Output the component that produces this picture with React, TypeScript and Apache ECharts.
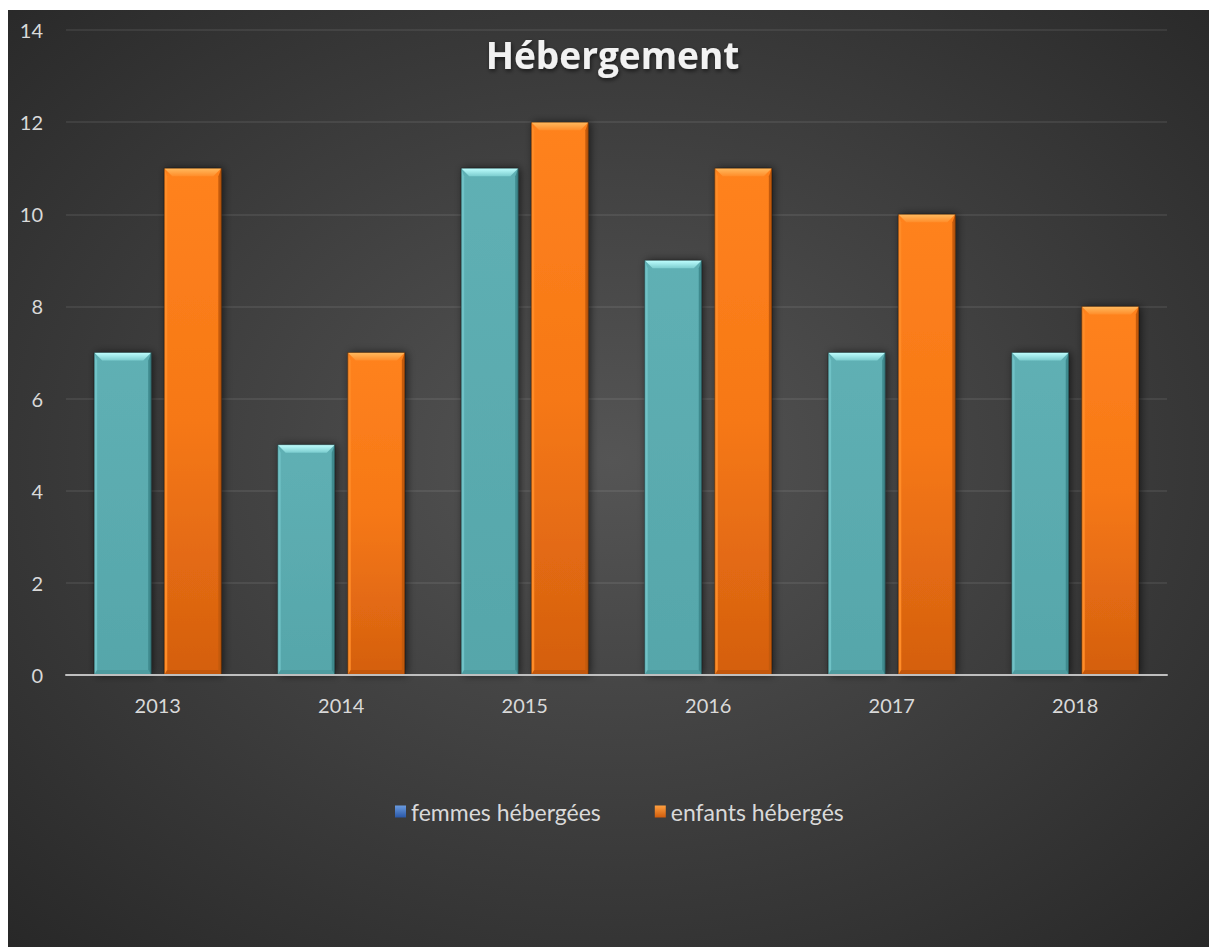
import React, { useEffect, useRef } from "react";
import * as echarts from "echarts";

const titleText = "Hébergement";
const years = ["2013", "2014", "2015", "2016", "2017", "2018"];
const seriesNames = ["femmes hébergées", "enfants hébergés"];
const femmes = [7, 5, 11, 9, 7, 7];
const enfants = [11, 7, 12, 11, 10, 8];
const yMin = 0;
const yMax = 14;
const yStep = 2;

type Pal = { main: any; top: any; right: string; left: string; bottom: string };

const tealPal: Pal = {
  main: new echarts.graphic.LinearGradient(0, 0, 0, 1, [
    { offset: 0, color: "#5fb0b4" },
    { offset: 1, color: "#56a6aa" },
  ]),
  top: new echarts.graphic.LinearGradient(0, 0, 0, 1, [
    { offset: 0, color: "#c0ffff" },
    { offset: 1, color: "#7ccdcf" },
  ]),
  right: "#3f8a8e",
  left: "#70c2c6",
  bottom: "#4a9498",
};

const orangePal: Pal = {
  main: new echarts.graphic.LinearGradient(0, 0, 0, 1, [
    { offset: 0, color: "#ff821e" },
    { offset: 0.5, color: "#f67816" },
    { offset: 1, color: "#d45f0f" },
  ]),
  top: new echarts.graphic.LinearGradient(0, 0, 0, 1, [
    { offset: 0, color: "#ffbb60" },
    { offset: 1, color: "#ff8d2a" },
  ]),
  right: "#c35a0c",
  left: "#ff8c28",
  bottom: "#b8520b",
};

function makeRender(pal: Pal, offsetRatio: number) {
  return (params: any, api: any) => {
    const idx = api.value(0);
    const val = api.value(1);
    const top = api.coord([idx, val]);
    const base = api.coord([idx, 0]);
    const band = api.size([1, 0])[0];
    const w = band * 0.311;
    const cx = top[0] + band * offsetRatio;
    const x0 = cx - w / 2;
    const x1 = cx + w / 2;
    const yT = top[1];
    const yB = base[1];
    const b = 8;
    const s = 3;
    const bb = 5;
    return {
      type: "group",
      children: [
        {
          type: "rect",
          shape: { x: x0, y: yT, width: w, height: yB - yT },
          style: {
            fill: pal.main,
            shadowBlur: 8,
            shadowColor: "rgba(0,0,0,0.6)",
            shadowOffsetX: 2,
            shadowOffsetY: 0,
          },
        },
        {
          type: "polygon",
          shape: { points: [[x0, yT], [x0 + s, yT + b], [x0 + s, yB - bb], [x0, yB]] },
          style: { fill: pal.left },
        },
        {
          type: "polygon",
          shape: { points: [[x1, yT], [x1, yB], [x1 - s, yB - bb], [x1 - s, yT + b]] },
          style: { fill: pal.right },
        },
        {
          type: "polygon",
          shape: { points: [[x0, yB], [x1, yB], [x1 - s, yB - bb], [x0 + s, yB - bb]] },
          style: { fill: pal.bottom, opacity: 0.6 },
        },
        {
          type: "polygon",
          shape: { points: [[x0, yT], [x1, yT], [x1 - b, yT + b], [x0 + b, yT + b]] },
          style: { fill: pal.top },
        },
        {
          type: "rect",
          shape: { x: x0, y: yT, width: w, height: yB - yT },
          style: { fill: "none", stroke: "rgba(0,0,0,0.45)", lineWidth: 1 },
        },
      ],
    };
  };
}

export default function App() {
  const ref = useRef<HTMLDivElement>(null);
  useEffect(() => {
    document.documentElement.style.overflow = "hidden";
    document.body.style.overflow = "hidden";
    const chart = echarts.init(ref.current!, null, { renderer: "svg" });
    const font = "Lato, 'Open Sans', sans-serif";
    chart.setOption({
      animation: false,
      backgroundColor: {
        type: "radial",
        x: 0.5,
        y: 0.48,
        r: 0.75,
        colorStops: [
          { offset: 0, color: "#555555" },
          { offset: 1, color: "#262626" },
        ],
      },
      title: {
        text: titleText,
        left: "center",
        top: 21,
        textStyle: {
          color: "#f2f2f2",
          fontFamily: "'Open Sans', sans-serif",
          fontWeight: "bold",
          fontSize: 37,
          textShadowColor: "rgba(0,0,0,0.6)",
          textShadowBlur: 4,
          textShadowOffsetX: 1,
          textShadowOffsetY: 2,
        },
      },
      legend: {
        left: 382,
        top: 785,
        itemWidth: 11,
        itemHeight: 12,
        itemGap: 54,
        icon: "rect",
        textStyle: { color: "#d9d9d9", fontFamily: font, fontSize: 23 },
        data: [
          {
            name: seriesNames[0],
            itemStyle: {
              color: new echarts.graphic.LinearGradient(0, 0, 0, 1, [
                { offset: 0, color: "#6a9be0" },
                { offset: 1, color: "#2a58a8" },
              ]),
            },
          },
          {
            name: seriesNames[1],
            itemStyle: {
              color: new echarts.graphic.LinearGradient(0, 0, 0, 1, [
                { offset: 0, color: "#ffa040" },
                { offset: 1, color: "#d05c0c" },
              ]),
            },
          },
        ],
      },
      grid: { left: 58, right: 50, top: 20, bottom: 272, containLabel: false },
      xAxis: {
        type: "category",
        data: years,
        z: 10,
        axisLine: { lineStyle: { color: "#bfbfbf", width: 2 } },
        axisTick: { show: false },
        axisLabel: { color: "#d9d9d9", fontFamily: font, fontSize: 20, margin: 20 },
      },
      yAxis: {
        type: "value",
        min: yMin,
        max: yMax,
        interval: yStep,
        axisLine: { show: false },
        axisTick: { show: false },
        axisLabel: { color: "#d9d9d9", fontFamily: font, fontSize: 20, margin: 23 },
        splitLine: { lineStyle: { color: "rgba(255,255,255,0.1)", width: 1.5 } },
      },
      series: [
        {
          type: "custom",
          name: seriesNames[0],
          itemStyle: { color: "#2a58a8" },
          encode: { x: 0, y: 1 },
          data: femmes.map((v, i) => [i, v]),
          renderItem: makeRender(tealPal, -0.191),
        },
        {
          type: "custom",
          name: seriesNames[1],
          itemStyle: { color: "#e06a12" },
          encode: { x: 0, y: 1 },
          data: enfants.map((v, i) => [i, v]),
          renderItem: makeRender(orangePal, 0.191),
        },
      ],
    });
    return () => chart.dispose();
  }, []);
  return <div ref={ref} style={{ width: 1209, height: 937, marginTop: 2 }} />;
}
